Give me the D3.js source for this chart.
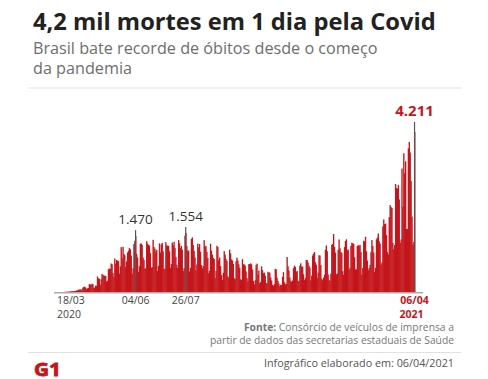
<!DOCTYPE html>
<html><head><meta charset="utf-8">
<script src="https://cdn.jsdelivr.net/npm/d3@7"></script>
<style>body{margin:0;background:#fff} svg{display:block} text{font-family:"Open Sans",sans-serif}</style>
</head><body><svg id="c" width="488" height="379"></svg>
<script>
// daily deaths, 18/03/2020 (Wed) .. 06/04/2021 (Tue); one row per week (Wed..Tue)
const startDate = "2020-03-18";
const deaths = [
  4, 4, 7, 7, 7, 9, 12,
  22, 20, 22, 22, 25, 23, 42,
  40, 58, 60, 73, 54, 67, 114,
  133, 141, 115, 68, 99, 105, 204,
  204, 188, 217, 206, 115, 113, 166,
  165, 407, 357, 346, 189, 338, 474,
  449, 435, 428, 421, 275, 296, 600,
  615, 610, 751, 730, 496, 396, 881,
  749, 844, 824, 816, 485, 674, 1179,
  888, 1188, 1001, 965, 653, 807, 1039,
  1086, 1156, 1124, 956, 480, 623, 1262,
  1349, 1470, 1005, 904, 525, 679, 1272,
  1274, 1239, 909, 843, 612, 627, 1338,
  1269, 1238, 1221, 1022, 641, 654, 1374,
  1185, 1141, 1055, 1109, 552, 692, 1280,
  1038, 1252, 1290, 1071, 602, 620, 1312,
  1223, 1220, 1214, 1071, 631, 733, 1300,
  1233, 1322, 1163, 921, 716, 632, 1367,
  1284, 1156, 1211, 1111, 551, 627, 1484,
  1554, 1212, 1088, 1088, 541, 632, 1394,
  1437, 1237, 1079, 905, 572, 727, 1274,
  1175, 1262, 1060, 709, 620, 684, 1365,
  1212, 1204, 1054, 892, 494, 565, 1271,
  1085, 984, 899, 869, 366, 553, 1215,
  1184, 834, 907, 682, 447, 315, 504,
  1075, 983, 874, 815, 415, 381, 1113,
  1013, 857, 829, 739, 363, 336, 809,
  906, 831, 729, 636, 335, 317, 863,
  729, 725, 695, 544, 366, 279, 734,
  733, 754, 729, 590, 287, 201, 309,
  713, 745, 461, 566, 230, 262, 676,
  575, 497, 510, 432, 231, 237, 533,
  512, 513, 377, 303, 190, 162, 205,
  610, 597, 375, 291, 220, 150, 194,
  182, 400, 521, 256, 201, 216, 920,
  676, 566, 380, 294, 264, 303, 630,
  691, 662, 530, 553, 278, 300, 698,
  755, 669, 667, 468, 313, 362, 842,
  839, 774, 686, 639, 302, 433, 961,
  1007, 1054, 786, 720, 370, 513, 966,
  962, 712, 349, 309, 377, 454, 1111,
  1224, 1074, 462, 314, 293, 480, 1242,
  1266, 1524, 1186, 1036, 469, 483, 1110,
  1382, 1151, 1050, 1029, 551, 452, 1183,
  1340, 1386, 1096, 1119, 592, 639, 1214,
  1295, 1283, 1265, 913, 595, 595, 1209,
  1232, 1210, 1239, 1051, 451, 636, 1350,
  1330, 1452, 1071, 830, 575, 633, 713,
  1050, 1367, 1212, 1040, 527, 639, 1386,
  1433, 1541, 1337, 1275, 718, 778, 1726,
  1910, 1786, 1800, 1498, 1054, 987, 1972,
  2286, 2233, 2216, 1290, 1127, 1233, 2841,
  2736, 2724, 2815, 2438, 1290, 1383, 3251,
  2244, 3650, 3119, 3438, 1656, 1660, 3780,
  3950, 3673, 2922, 1987, 1240, 1319, 4211
];
const peakValues = [1470, 1554, 4211];
const peakLabels = ["1.470", "1.554", "4.211"];
const peakTicks = ["04/06", "26/07", "06/04"];
const firstTick = "18/03";
const yearLabels = ["2020", "2021"];

const title = "4,2 mil mortes em 1 dia pela Covid";
const subtitle = ["Brasil bate recorde de óbitos desde o começo", "da pandemia"];
const source = ["Consórcio de veículos de imprensa a", "partir de dados das secretarias estaduais de Saúde"];
const credit = "Infográfico elaborado em: 06/04/2021";

const RED = "#c4161c";
const start = d3.timeParse("%Y-%m-%d")(startDate);
const dates = deaths.map((d, i) => d3.timeDay.offset(start, i));
const data = deaths.map((v, i) => ({date: dates[i], value: v}));

const svg = d3.select("#c");
svg.append("rect").attr("width", 488).attr("height", 379).attr("fill", "#fff");

// header
svg.append("text").attr("x", 33).attr("y", 29.5).attr("font-size", 23.7).attr("font-weight", 700)
  .attr("fill", "#222").text(title);
subtitle.forEach((s, i) => svg.append("text").attr("x", 33).attr("y", 53.5 + i * 20.5)
  .attr("font-size", 16.2).attr("fill", "#6e6e6e").text(s));
svg.append("line").attr("x1", 28).attr("x2", 461).attr("y1", 88).attr("y2", 88)
  .attr("stroke", "#e2e2e2").attr("stroke-width", 1.2);

// scales
const x = d3.scaleBand().domain(dates).range([64, 415]).paddingInner(0).paddingOuter(0);
const y = d3.scaleLinear().domain([0, 4211]).range([292, 132]);
const bw = x.bandwidth();

svg.append("g").selectAll("rect").data(data).join("rect")
  .attr("x", d => x(d.date))
  .attr("y", d => y(d.value))
  .attr("width", bw + 0.45)
  .attr("height", d => y(0) - y(d.value))
  .attr("fill", RED);

// axis line
svg.append("line").attr("x1", 54).attr("x2", 423).attr("y1", 292.7).attr("y2", 292.7)
  .attr("stroke", "#aaa").attr("stroke-width", 1.5);

// peak markers
peakValues.forEach((v, i) => {
  const d = data.find(e => e.value === v);
  const cx = x(d.date) + bw / 2;
  const last = i === peakValues.length - 1;
  svg.append("line").attr("x1", cx).attr("x2", cx).attr("y1", y(0)).attr("y2", y(v) - (last ? 10 : 6))
    .attr("stroke", "#555").attr("stroke-width", 1.2);
  svg.append("text").attr("x", cx).attr("y", y(v) - (last ? 16 : 12))
    .attr("text-anchor", "middle")
    .attr("font-size", last ? 15 : 13.5).attr("font-weight", last ? 700 : 400)
    .attr("fill", last ? RED : "#333").text(peakLabels[i]);
  svg.append("text").attr("x", cx).attr("y", 303.5).attr("text-anchor", "middle")
    .attr("font-size", 10.5).attr("font-weight", last ? 700 : 400)
    .attr("fill", last ? RED : "#444").text(peakTicks[i]);
  if (last) {
    svg.append("text").attr("x", cx - 15).attr("y", 318)
      .attr("font-size", 10.5).attr("font-weight", 700).attr("fill", RED).text(yearLabels[1]);
  }
});
svg.append("text").attr("x", 57).attr("y", 303.5).attr("font-size", 10.5).attr("fill", "#444").text(firstTick);
svg.append("text").attr("x", 57).attr("y", 318).attr("font-size", 10.5).attr("fill", "#444").text(yearLabels[0]);

// source
const s1 = svg.append("text").attr("x", 454).attr("y", 331).attr("text-anchor", "end")
  .attr("font-size", 10.3).attr("fill", "#777");
s1.append("tspan").attr("font-weight", 700).text("Fonte: ");
s1.append("tspan").text(source[0]);
svg.append("text").attr("x", 454).attr("y", 344).attr("text-anchor", "end")
  .attr("font-size", 10.3).attr("fill", "#777").text(source[1]);

svg.append("line").attr("x1", 28).attr("x2", 461).attr("y1", 352.5).attr("y2", 352.5)
  .attr("stroke", "#e2e2e2").attr("stroke-width", 1);

svg.append("text").attr("x", 454).attr("y", 367).attr("text-anchor", "end")
  .attr("font-size", 10.8).attr("font-weight", 500).attr("fill", "#555").text(credit);

// logo
svg.append("text").attr("x", 34).attr("y", 375.5).attr("font-family", "DejaVu Sans")
  .attr("font-size", 17.5).attr("font-weight", 700)
  .attr("textLength", 27).attr("lengthAdjust", "spacingAndGlyphs")
  .attr("fill", RED).attr("stroke", RED).attr("stroke-width", 0.8).text("G1");
</script></body></html>
